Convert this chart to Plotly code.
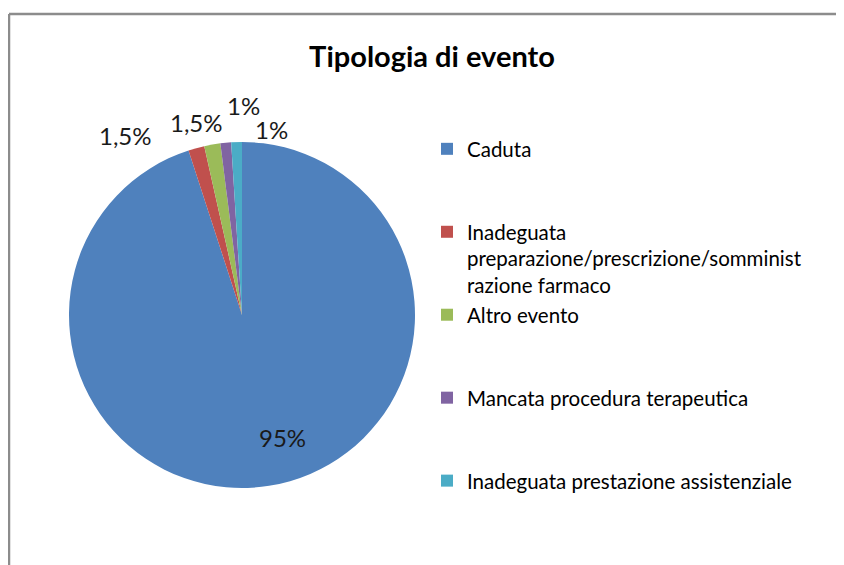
import plotly.graph_objects as go

categories = [
    "Caduta",
    "Inadeguata preparazione/prescrizione/somministrazione farmaco",
    "Altro evento",
    "Mancata procedura terapeutica",
    "Inadeguata prestazione assistenziale",
]
legend_names = [
    "Caduta<br> <br> ",
    "Inadeguata<br>preparazione/prescrizione/somminist<br>razione farmaco",
    "Altro evento<br> <br> ",
    "Mancata procedura terapeutica<br> <br> ",
    "Inadeguata prestazione assistenziale",
]
values = [95, 1.5, 1.5, 1, 1]
value_labels = ["95%", "1,5%", "1,5%", "1%", "1%"]
colors = ["#4F81BD", "#C0504D", "#9BBB59", "#8064A2", "#4BACC6"]

OFF = 8  # page body margin
W, H = 844 - OFF, 565 - OFF
FONT = "Lato, Calibri, sans-serif"


def px(x):
    return (x - OFF) / W


def py(y):
    return 1 - (y - OFF) / H


fig = go.Figure(go.Pie(
    labels=legend_names,
    values=values,
    textinfo="none",
    marker=dict(colors=colors, line=dict(width=0)),
    sort=False,
    direction="clockwise",
    rotation=0,
    domain=dict(x=[px(69), px(415)], y=[py(488), py(142)]),
    hoverinfo="label+percent",
))

# data labels (screen positions of the label centres)
label_pos = [(282, 437), (125, 135), (196, 122), (244, 105), (271, 129)]
annotations = []
for (lx, ly), t in zip(label_pos, value_labels):
    annotations.append(dict(
        x=px(lx), y=py(ly), xref="paper", yref="paper",
        text=t, showarrow=False, xanchor="center", yanchor="middle",
        font=dict(family=FONT, size=24, color="#1a1a1a"),
    ))

fig.update_layout(
    width=W, height=H,
    margin=dict(l=0, r=0, t=0, b=0),
    paper_bgcolor="white",
    plot_bgcolor="white",
    title=dict(
        text="<b>Tipologia di evento</b>",
        x=px(432), xanchor="center",
        y=py(57), yanchor="middle",
        font=dict(family=FONT, size=29, color="#000000"),
    ),
    legend=dict(
        x=px(427), xanchor="left",
        y=py(129), yanchor="top",
        valign="top",
        font=dict(family=FONT, size=20.5, color="#000000"),
        itemwidth=30,
        bgcolor="rgba(0,0,0,0)",
    ),
    annotations=annotations,
    shapes=[
        dict(type="line", xref="paper", yref="paper",
             x0=px(9), x1=1.02, y0=py(14), y1=py(14),
             line=dict(color="#8c8c8c", width=2.5)),
        dict(type="line", xref="paper", yref="paper",
             x0=px(9), x1=px(9), y0=py(14), y1=-0.02,
             line=dict(color="#8c8c8c", width=2.5)),
    ],
)

fig.write_html("out.html")
